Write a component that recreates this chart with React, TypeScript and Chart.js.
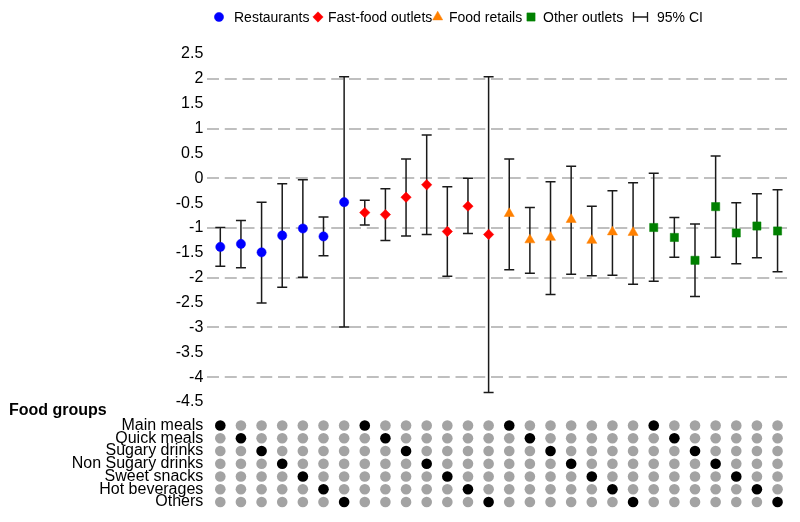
import React, { useEffect, useRef } from "react";
import { Chart, registerables } from "chart.js";
import { drawPoint } from "chart.js/helpers";

Chart.register(...registerables);

// ---------- data ----------
const outletTypes = ["Restaurants", "Fast-food outlets", "Food retails", "Other outlets"];
const foodGroups = [
  "Main meals",
  "Quick meals",
  "Sugary drinks",
  "Non Sugary drinks",
  "Sweet snacks",
  "Hot beverages",
  "Others",
];
const yTickValues = [2.5, 2, 1.5, 1, 0.5, 0, -0.5, -1, -1.5, -2, -2.5, -3, -3.5, -4, -4.5];

const restaurantEst = [-1.38, -1.32, -1.49, -1.15, -1.01, -1.17, -0.48];
const restaurantLow = [-1.77, -1.8, -2.51, -2.19, -1.99, -1.56, -2.99];
const restaurantHigh = [-0.99, -0.85, -0.48, -0.11, -0.03, -0.78, 2.04];

const fastFoodEst = [-0.69, -0.73, -0.38, -0.13, -1.07, -0.56, -1.13];
const fastFoodLow = [-0.94, -1.25, -1.16, -1.13, -1.97, -1.11, -4.31];
const fastFoodHigh = [-0.44, -0.21, 0.39, 0.87, -0.17, 0.0, 2.04];

const retailEst = [-0.71, -1.24, -1.19, -0.83, -1.25, -1.08, -1.09];
const retailLow = [-1.84, -1.91, -2.34, -1.93, -1.96, -1.95, -2.13];
const retailHigh = [0.39, -0.59, -0.07, 0.24, -0.56, -0.25, -0.09];

const otherEst = [-0.99, -1.19, -1.65, -0.57, -1.1, -0.96, -1.06];
const otherLow = [-2.07, -1.59, -2.38, -1.59, -1.72, -1.6, -1.88];
const otherHigh = [0.1, -0.79, -0.92, 0.45, -0.49, -0.31, -0.23];

// food group of each column within each outlet block
const outletFoodGroups = [
  ["Main meals", "Quick meals", "Sugary drinks", "Non Sugary drinks", "Sweet snacks", "Hot beverages", "Others"],
  ["Main meals", "Quick meals", "Sugary drinks", "Non Sugary drinks", "Sweet snacks", "Hot beverages", "Others"],
  ["Main meals", "Quick meals", "Sugary drinks", "Non Sugary drinks", "Sweet snacks", "Hot beverages", "Others"],
  ["Main meals", "Quick meals", "Sugary drinks", "Non Sugary drinks", "Sweet snacks", "Hot beverages", "Others"],
];

const seriesEst = [restaurantEst, fastFoodEst, retailEst, otherEst];
const seriesLow = [restaurantLow, fastFoodLow, retailLow, otherLow];
const seriesHigh = [restaurantHigh, fastFoodHigh, retailHigh, otherHigh];

// ---------- styles ----------
const FONT = "'Liberation Sans', Arial, Helvetica, sans-serif";
const seriesColors = ["#0000ff", "#ff0000", "#ff8000", "#008000"];
const seriesStyles = ["circle", "rectRot", "triangle", "rect"];
const seriesRadius = [4.6, 5.2, 5.8, 5.8];

export default function App() {
  const canvasRef = useRef<HTMLCanvasElement | null>(null);

  useEffect(() => {
    document.body.style.margin = "0";
    const canvas = canvasRef.current;
    if (!canvas) return;

    let colIndex = 0;
    const datasets: any[] = [];
    const bars: { x: number; low: number; high: number }[] = [];
    const matrix: { x: number; y: number }[] = [];
    const matrixColors: string[] = [];

    seriesEst.forEach((est, s) => {
      const data = est.map((v, j) => {
        const x = colIndex + j;
        bars.push({ x, low: seriesLow[s][j], high: seriesHigh[s][j] });
        const fg = outletFoodGroups[s][j];
        foodGroups.forEach((g, r) => {
          matrix.push({ x, y: r });
          matrixColors.push(g === fg ? "#000000" : "#a3a3a3");
        });
        return { x, y: v };
      });
      colIndex += est.length;
      datasets.push({
        type: "scatter",
        label: outletTypes[s],
        data,
        xAxisID: "x",
        yAxisID: "y",
        pointStyle: seriesStyles[s],
        pointRadius: seriesRadius[s],
        pointBackgroundColor: seriesColors[s],
        pointBorderColor: seriesColors[s],
        pointBorderWidth: 0.5,
        clip: false,
      });
    });

    datasets.push({
      type: "scatter",
      label: "Food groups",
      data: matrix,
      xAxisID: "x",
      yAxisID: "y2",
      pointStyle: "circle",
      pointRadius: 5.3,
      pointBackgroundColor: matrixColors,
      pointBorderColor: matrixColors,
      pointBorderWidth: 0,
      clip: false,
    });

    const errorBarPlugin = {
      id: "errorBars",
      beforeDatasetsDraw(chart: any) {
        const { ctx } = chart;
        const xs = chart.scales.x;
        const ys = chart.scales.y;
        ctx.save();
        ctx.strokeStyle = "#1a1a1a";
        ctx.lineWidth = 1.5;
        bars.forEach((b) => {
          const px = xs.getPixelForValue(b.x);
          const y1 = ys.getPixelForValue(b.low);
          const y2 = ys.getPixelForValue(b.high);
          ctx.beginPath();
          ctx.moveTo(px, y1);
          ctx.lineTo(px, y2);
          ctx.moveTo(px - 5, y1);
          ctx.lineTo(px + 5, y1);
          ctx.moveTo(px - 5, y2);
          ctx.lineTo(px + 5, y2);
          ctx.stroke();
        });
        ctx.restore();
      },
    };

    const legendPlugin = {
      id: "customLegend",
      afterDraw(chart: any) {
        const { ctx } = chart;
        const cy = 17;
        const markerX = [219, 318, 437.7, 531, 640.5];
        const textX = [234, 328, 449, 543, 657];
        ctx.save();
        ctx.font = `14px ${FONT}`;
        ctx.fillStyle = "#000";
        ctx.textBaseline = "middle";
        ctx.textAlign = "left";
        outletTypes.forEach((label, i) => {
          ctx.fillStyle = seriesColors[i];
          ctx.strokeStyle = seriesColors[i];
          ctx.lineWidth = 0.5;
          drawPoint(ctx, { pointStyle: seriesStyles[i], radius: seriesRadius[i], rotation: 0, borderWidth: 0.5 }, markerX[i], cy);
          ctx.fillStyle = "#000";
          ctx.fillText(label, textX[i], cy + 1);
        });
        // CI icon
        const cx = markerX[4];
        ctx.strokeStyle = "#1a1a1a";
        ctx.lineWidth = 1.3;
        ctx.beginPath();
        ctx.moveTo(cx - 7, cy);
        ctx.lineTo(cx + 7, cy);
        ctx.moveTo(cx - 7, cy - 5);
        ctx.lineTo(cx - 7, cy + 5);
        ctx.moveTo(cx + 7, cy - 5);
        ctx.lineTo(cx + 7, cy + 5);
        ctx.stroke();
        ctx.fillStyle = "#000";
        ctx.fillText("95% CI", textX[4], cy + 1);

        // "Food groups" heading
        const y2 = chart.scales.y2;
        ctx.font = `bold 16px ${FONT}`;
        ctx.fillText("Food groups", 9, y2.top + 9);
        ctx.restore();
      },
    };

    const chart = new Chart(canvas, {
      type: "scatter",
      data: { datasets },
      options: {
        animation: false,
        responsive: false,
        layout: { padding: { top: 54, bottom: 11, left: 0, right: 8 } },
        plugins: {
          legend: { display: false },
          tooltip: { enabled: false },
        },
        scales: {
          x: {
            type: "linear",
            display: false,
            min: -0.63,
            max: 27.7,
          },
          y: {
            type: "linear",
            position: "left",
            stack: "panels",
            stackWeight: 350,
            weight: 1,
            min: -4.5,
            max: 2.5,
            afterBuildTicks: (scale: any) => {
              scale.ticks = yTickValues.map((v) => ({ value: v }));
            },
            afterFit: (scale: any) => {
              scale.width = 207.3;
            },
            ticks: {
              autoSkip: false,
              padding: 4,
              color: "#000",
              font: { family: FONT, size: 16 },
              callback: (v: any) => String(v),
            },
            grid: {
              drawTicks: false,
              lineWidth: 2,
              color: (c: any) =>
                c.tick && Number.isInteger(c.tick.value) ? "#bfbfbf" : "rgba(0,0,0,0)",
            },
            border: { display: false, dash: [12, 5.75] },
          },
          y2: {
            type: "linear",
            position: "left",
            stack: "panels",
            stackWeight: 107,
            weight: 0,
            reverse: true,
            min: -1.84,
            max: 6.5,
            afterBuildTicks: (scale: any) => {
              scale.ticks = foodGroups.map((_, i) => ({ value: i }));
            },
            afterFit: (scale: any) => {
              scale.width = 207.3;
            },
            ticks: {
              autoSkip: false,
              padding: 4,
              color: "#000",
              font: { family: FONT, size: 16 },
              callback: (v: any) => foodGroups[v] ?? "",
            },
            grid: { display: false, drawTicks: false },
            border: { display: false },
          },
        },
      },
      plugins: [errorBarPlugin, legendPlugin],
    } as any);

    return () => chart.destroy();
  }, []);

  return (
    <div style={{ position: "fixed", left: 0, top: 0, width: 800, height: 522, background: "#fff" }}>
      <canvas ref={canvasRef} width={800} height={522} />
    </div>
  );
}
